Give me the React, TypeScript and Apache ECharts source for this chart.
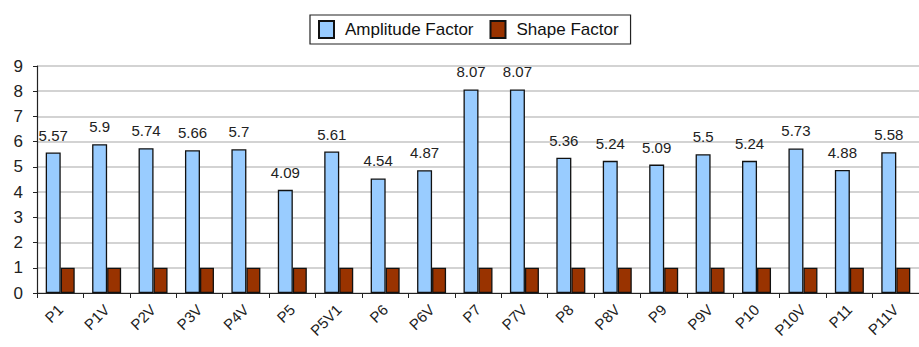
import React, { useEffect, useRef } from "react";
import * as echarts from "echarts";

const categories = ["P1", "P1V", "P2V", "P3V", "P4V", "P5", "P5V1", "P6", "P6V", "P7", "P7V", "P8", "P8V", "P9", "P9V", "P10", "P10V", "P11", "P11V"];
const amplitudeFactor = [5.57, 5.9, 5.74, 5.66, 5.7, 4.09, 5.61, 4.54, 4.87, 8.07, 8.07, 5.36, 5.24, 5.09, 5.5, 5.24, 5.73, 4.88, 5.58];
const shapeFactor = [1, 1, 1, 1, 1, 1, 1, 1, 1, 1, 1, 1, 1, 1, 1, 1, 1, 1, 1];
const yTicks = [0, 9, 1];

export default function App() {
  const ref = useRef<HTMLDivElement>(null);
  useEffect(() => {
    if (!ref.current) return;
    const chart = echarts.init(ref.current, null, { renderer: "svg" });
    const font = "Liberation Sans, Arial, sans-serif";
    chart.setOption({
      animation: false,
      backgroundColor: "#ffffff",
      textStyle: { fontFamily: font },
      legend: {
        top: 15,
        left: 310,
        icon: "rect",
        itemWidth: 15,
        itemHeight: 17,
        itemGap: 16,
        padding: [5, 12, 5, 8],
        borderColor: "#222",
        borderWidth: 1.2,
        textStyle: { fontSize: 17, color: "#111", fontFamily: font, padding: [0, 0, 0, 6] },
        data: ["Amplitude Factor", "Shape Factor"],
      },
      grid: { left: 37, right: 0, top: 66, bottom: 54, containLabel: false },
      xAxis: {
        type: "category",
        data: categories,
        axisLine: { lineStyle: { color: "#222", width: 1.2 } },
        axisTick: { show: true, alignWithLabel: false, length: 5, lineStyle: { color: "#222" } },
        axisLabel: { interval: 0, rotate: 45, fontSize: 15, color: "#222", margin: 14, fontFamily: font },
      },
      yAxis: {
        type: "value",
        min: yTicks[0],
        max: yTicks[1],
        interval: yTicks[2],
        axisLine: { show: true, lineStyle: { color: "#222", width: 1.2 } },
        axisTick: { show: true, length: 4, lineStyle: { color: "#222" } },
        axisLabel: { fontSize: 17, color: "#222", margin: 14, fontFamily: font },
        splitLine: { lineStyle: { color: "#c4c4c4", width: 1.5 } },
      },
      series: [
        {
          name: "Amplitude Factor",
          type: "bar",
          data: amplitudeFactor,
          barWidth: 15,
          barGap: "0%",
          itemStyle: { color: "#99ccff", borderColor: "#111", borderWidth: 1.3 },
          label: { show: true, position: "top", distance: 10, fontSize: 15, color: "#222", fontFamily: font },
        },
        {
          name: "Shape Factor",
          type: "bar",
          data: shapeFactor,
          barWidth: 14,
          itemStyle: { color: "#993300", borderColor: "#111", borderWidth: 1.3 },
        },
      ],
    });
    return () => chart.dispose();
  }, []);
  return <div ref={ref} style={{ width: 919, height: 347, position: "absolute", left: 0, top: 0 }} />;
}
